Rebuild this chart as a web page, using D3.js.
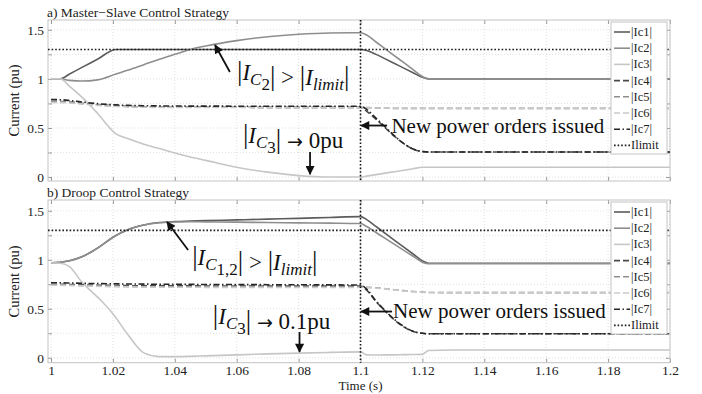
<!DOCTYPE html>
<html>
<head>
<meta charset="utf-8">
<script src="https://cdn.jsdelivr.net/npm/d3@7/dist/d3.min.js"></script>
<style>
    body { margin: 0; background: #fff; }
    svg { display: block; font-family: "Liberation Serif", "Times New Roman", serif; }
</style>
</head>
<body>
<svg id="Target" width="702" height="394"></svg>
<script>
// a) master-slave
const timeA = [1.000, 1.003, 1.006, 1.010, 1.015, 1.021, 1.025, 1.030, 1.035, 1.040, 1.045, 1.050, 1.060, 1.070, 1.080, 1.090, 1.100,
    1.102, 1.105, 1.108, 1.111, 1.114, 1.117, 1.120, 1.122, 1.130, 1.150, 1.170, 1.200];
const ic1A = [1.00, 1.00, 1.05, 1.117, 1.20, 1.30, 1.30, 1.30, 1.30, 1.30, 1.30, 1.30, 1.30, 1.30, 1.30, 1.30, 1.30,
    1.29, 1.25, 1.204, 1.157, 1.110, 1.063, 1.016, 1.00, 1.00, 1.00, 1.00, 1.00];
const ic2A = [1.00, 1.00, 0.985, 0.978, 0.99, 1.05, 1.09, 1.145, 1.20, 1.25, 1.30, 1.335, 1.39, 1.43, 1.455, 1.468, 1.47,
    1.447, 1.376, 1.306, 1.235, 1.165, 1.094, 1.024, 1.00, 1.00, 1.00, 1.00, 1.00];
const ic3A = [1.00, 1.00, 0.925, 0.815, 0.65, 0.44, 0.39, 0.335, 0.29, 0.245, 0.205, 0.17, 0.10, 0.05, 0.015, 0.0, 0.0,
    0.01, 0.025, 0.04, 0.055, 0.07, 0.085, 0.10, 0.10, 0.10, 0.10, 0.10, 0.10];
const ic4A = [0.77, 0.77, 0.765, 0.75, 0.735, 0.725, 0.72, 0.715, 0.715, 0.713, 0.712, 0.712, 0.711, 0.71, 0.71, 0.71, 0.71,
    0.67, 0.59, 0.50, 0.415, 0.34, 0.285, 0.26, 0.255, 0.255, 0.255, 0.255, 0.255];
const ic5A = [0.77, 0.77, 0.765, 0.75, 0.735, 0.725, 0.72, 0.715, 0.715, 0.713, 0.712, 0.712, 0.711, 0.71, 0.71, 0.71, 0.71,
    0.708, 0.705, 0.703, 0.70, 0.70, 0.70, 0.70, 0.70, 0.70, 0.70, 0.70, 0.70];
const ic6A = [0.76, 0.76, 0.755, 0.743, 0.73, 0.72, 0.715, 0.712, 0.71, 0.71, 0.709, 0.709, 0.708, 0.708, 0.708, 0.708, 0.708,
    0.706, 0.704, 0.702, 0.70, 0.70, 0.70, 0.70, 0.70, 0.70, 0.70, 0.70, 0.70];
const ic7A = [0.79, 0.788, 0.78, 0.765, 0.748, 0.735, 0.73, 0.727, 0.725, 0.724, 0.723, 0.723, 0.722, 0.722, 0.722, 0.722, 0.722,
    0.69, 0.60, 0.51, 0.42, 0.34, 0.285, 0.26, 0.255, 0.255, 0.255, 0.255, 0.255];

// b) droop
const timeB = [1.000, 1.003, 1.006, 1.010, 1.013, 1.016, 1.020, 1.025, 1.030, 1.035, 1.040, 1.045, 1.050, 1.060, 1.070, 1.080, 1.090, 1.100,
    1.102, 1.105, 1.108, 1.111, 1.114, 1.117, 1.120, 1.122, 1.130, 1.150, 1.170, 1.200];
const ic1B = [0.97, 0.975, 0.99, 1.03, 1.08, 1.14, 1.23, 1.31, 1.355, 1.38, 1.39, 1.395, 1.40, 1.407, 1.415, 1.423, 1.432, 1.44,
    1.41, 1.34, 1.27, 1.199, 1.129, 1.059, 0.989, 0.965, 0.965, 0.965, 0.965, 0.965];
const ic2B = [0.97, 0.975, 0.99, 1.03, 1.08, 1.14, 1.23, 1.31, 1.355, 1.378, 1.386, 1.388, 1.387, 1.384, 1.38, 1.377, 1.374, 1.37,
    1.339, 1.278, 1.218, 1.157, 1.096, 1.036, 0.975, 0.96, 0.96, 0.96, 0.96, 0.96];
const ic3B = [0.97, 0.965, 0.93, 0.77, 0.68, 0.59, 0.45, 0.23, 0.05, 0.012, 0.012, 0.015, 0.02, 0.03, 0.04, 0.048, 0.055, 0.06,
    0.03, 0.028, 0.03, 0.03, 0.032, 0.033, 0.035, 0.075, 0.08, 0.08, 0.08, 0.08];
const ic4B = [0.75, 0.75, 0.748, 0.745, 0.742, 0.74, 0.738, 0.736, 0.735, 0.735, 0.734, 0.734, 0.733, 0.733, 0.733, 0.733, 0.733, 0.733,
    0.69, 0.575, 0.475, 0.385, 0.315, 0.268, 0.25, 0.245, 0.245, 0.245, 0.245, 0.245];
const ic5B = [0.745, 0.745, 0.742, 0.738, 0.735, 0.732, 0.73, 0.727, 0.725, 0.724, 0.723, 0.722, 0.722, 0.721, 0.72, 0.72, 0.72, 0.72,
    0.719, 0.714, 0.705, 0.695, 0.685, 0.676, 0.67, 0.667, 0.665, 0.665, 0.665, 0.665];
const ic6B = [0.74, 0.74, 0.738, 0.734, 0.731, 0.728, 0.726, 0.724, 0.722, 0.721, 0.72, 0.72, 0.719, 0.719, 0.718, 0.718, 0.718, 0.718,
    0.717, 0.712, 0.703, 0.693, 0.684, 0.675, 0.669, 0.666, 0.665, 0.665, 0.665, 0.665];
const ic7B = [0.765, 0.765, 0.763, 0.76, 0.758, 0.757, 0.755, 0.753, 0.752, 0.75, 0.75, 0.749, 0.748, 0.747, 0.746, 0.745, 0.744, 0.742,
    0.70, 0.58, 0.48, 0.39, 0.32, 0.27, 0.25, 0.245, 0.245, 0.245, 0.245, 0.245];

const iLimit = 1.3;
const ordersTime = 1.1;
const seriesNames = ["|Ic1|", "|Ic2|", "|Ic3|", "|Ic4|", "|Ic5|", "|Ic6|", "|Ic7|", "Ilimit"];
const xTicks = [1, 1.02, 1.04, 1.06, 1.08, 1.1, 1.12, 1.14, 1.16, 1.18, 1.2];
const yTicks = [0, 0.5, 1, 1.5];
const yGrid = [0, 0.25, 0.5, 0.75, 1, 1.25, 1.5];

const styles = [
    { color: "#5c5c5c", dash: null },
    { color: "#8e8e8e", dash: null },
    { color: "#c6c6c6", dash: null },
    { color: "#4a4a4a", dash: "6,3" },
    { color: "#8e8e8e", dash: "6,3" },
    { color: "#cacaca", dash: "6,3" },
    { color: "#262626", dash: "6,2.5,1.5,2.5" },
    { color: "#1a1a1a", dash: "1.6,2" }
];

const serif = "'Liberation Serif', 'Times New Roman', serif";

const svg = d3.select("#Target");
svg.append("rect").attr("width", 702).attr("height", 394).attr("fill", "#fff");

svg.append("defs").append("marker")
    .attr("id", "head")
    .attr("viewBox", "0 0 10 10")
    .attr("refX", 9).attr("refY", 5)
    .attr("markerWidth", 11).attr("markerHeight", 9)
    .attr("markerUnits", "userSpaceOnUse")
    .attr("orient", "auto")
    .append("path")
    .attr("d", "M0,0 L10,5 L0,10 Z")
    .attr("fill", "#111");

const x = d3.scaleLinear().domain([1, 1.2]).range([51, 670]);
const plotLeft = 48, plotRight = 670;

function mathText(g, px, py, parts) {
    const t = g.append("text")
        .attr("x", px).attr("y", py)
        .style("font-family", serif)
        .style("font-size", "23px")
        .attr("fill", "#111");
    parts.forEach(p => {
        const s = t.append("tspan").text(p.t);
        if (p.i) s.style("font-style", "italic");
        if (p.bar) s.style("font-size", "27px");
        if (p.sub) s.style("font-size", "17px").attr("dy", 5);
        if (p.up) s.attr("dy", -5);
        if (p.sym) s.style("font-family", "'DejaVu Sans', sans-serif").style("font-size", "19px");
    });
}

function arrow(g, x1, y1, x2, y2) {
    g.append("line")
        .attr("x1", x1).attr("y1", y1).attr("x2", x2).attr("y2", y2)
        .attr("stroke", "#111").attr("stroke-width", 1.8)
        .attr("marker-end", "url(#head)");
}

function drawPanel(cfg) {
    const y = d3.scaleLinear().domain(cfg.yDomain).range([cfg.bottom, cfg.top]);
    const g = svg.append("g");

    // grid
    g.selectAll("line.vg").data(xTicks).enter().append("line")
        .attr("x1", d => x(d)).attr("x2", d => x(d))
        .attr("y1", cfg.top).attr("y2", cfg.bottom)
        .attr("stroke", "#d8d8d8").attr("stroke-width", 0.8).attr("stroke-dasharray", "1,2");
    g.selectAll("line.hg").data(yGrid).enter().append("line")
        .attr("x1", plotLeft).attr("x2", plotRight)
        .attr("y1", d => y(d)).attr("y2", d => y(d))
        .attr("stroke", "#d8d8d8").attr("stroke-width", 0.8).attr("stroke-dasharray", "1,2");

    // axes with inward ticks
    g.append("g").attr("transform", `translate(${plotLeft},0)`)
        .call(d3.axisLeft(y).tickValues(yGrid).tickSizeInner(-4).tickSizeOuter(0).tickPadding(4)
            .tickFormat(d => yTicks.includes(d) ? d3.format("")(d) : ""));
    g.append("g").attr("transform", `translate(${plotRight},0)`)
        .call(d3.axisRight(y).tickValues(yGrid).tickSizeInner(-4).tickSizeOuter(0).tickFormat(""));
    g.append("g").attr("transform", `translate(0,${cfg.bottom})`)
        .call(d3.axisBottom(x).tickValues(xTicks).tickSizeInner(-4).tickSizeOuter(0).tickPadding(3)
            .tickFormat(d => cfg.xLabels ? String(+d.toFixed(2)) : ""));
    g.append("g").attr("transform", `translate(0,${cfg.top})`)
        .call(d3.axisTop(x).tickValues(xTicks).tickSizeInner(-4).tickSizeOuter(0).tickFormat(""));
    g.selectAll(".domain").remove();
    g.selectAll(".tick line").attr("stroke", "#9a9a9a");
    g.selectAll(".tick text")
        .style("font-family", serif).style("font-size", "13.5px").attr("fill", "#222");

    g.append("rect")
        .attr("x", plotLeft).attr("y", cfg.top)
        .attr("width", plotRight - plotLeft).attr("height", cfg.bottom - cfg.top)
        .attr("fill", "none").attr("stroke", "#c4c4c4").attr("stroke-width", 1);

    // curves
    const line = d3.line()
        .x(d => x(d[0]))
        .y(d => y(d[1]))
        .curve(d3.curveMonotoneX);

    cfg.series.forEach((vals, i) => {
        g.append("path")
            .attr("d", line(cfg.time.map((t, k) => [t, vals[k]])))
            .attr("fill", "none")
            .attr("stroke", styles[i].color)
            .attr("stroke-width", 1.6)
            .attr("stroke-dasharray", styles[i].dash);
    });

    g.append("line")
        .attr("x1", plotLeft).attr("x2", plotRight)
        .attr("y1", y(iLimit)).attr("y2", y(iLimit))
        .attr("stroke", styles[7].color).attr("stroke-width", 1.6)
        .attr("stroke-dasharray", styles[7].dash);

    g.append("line")
        .attr("x1", x(ordersTime)).attr("x2", x(ordersTime))
        .attr("y1", cfg.top).attr("y2", cfg.bottom)
        .attr("stroke", "#111").attr("stroke-width", 1.6)
        .attr("stroke-dasharray", "1.6,2");

    // title and y label
    svg.append("text")
        .attr("x", plotLeft - 1).attr("y", cfg.top - 3)
        .style("font-size", "13.5px").attr("fill", "#222")
        .text(cfg.title);
    svg.append("text")
        .attr("transform", `translate(19,${(cfg.top + cfg.bottom) / 2}) rotate(-90)`)
        .attr("text-anchor", "middle")
        .style("font-size", "14.5px").attr("fill", "#222")
        .text("Current (pu)");

    // legend
    const leg = svg.append("g").attr("transform", `translate(611,${cfg.top + 2})`);
    leg.append("rect")
        .attr("width", 56).attr("height", 132)
        .attr("fill", "#fff").attr("stroke", "#c4c4c4");
    seriesNames.forEach((name, i) => {
        const ly = 10 + i * 16.2;
        leg.append("line")
            .attr("x1", 3).attr("x2", 19).attr("y1", ly).attr("y2", ly)
            .attr("stroke", styles[i].color).attr("stroke-width", 1.6)
            .attr("stroke-dasharray", styles[i].dash);
        leg.append("text")
            .attr("x", 20).attr("y", ly + 4)
            .style("font-size", "12.5px").attr("fill", "#222")
            .text(name);
    });

    // annotations
    const a = cfg.notes;
    mathText(svg, x(a.limit[0]), y(a.limit[1]), a.limitParts);
    arrow(svg, x(a.limitArrow[0]), y(a.limitArrow[1]), x(a.limitArrow[2]), y(a.limitArrow[3]));
    mathText(svg, x(a.ic3[0]), y(a.ic3[1]), a.ic3Parts);
    arrow(svg, x(a.ic3Arrow[0]), y(a.ic3Arrow[1]), x(a.ic3Arrow[0]), y(a.ic3Arrow[2]));
    svg.append("text")
        .attr("x", x(a.orders[0])).attr("y", y(a.orders[1]))
        .style("font-size", "21px").attr("fill", "#111")
        .text("New power orders issued");
    arrow(svg, x(a.ordersArrow[0]), y(a.ordersArrow[2]), x(a.ordersArrow[1]), y(a.ordersArrow[2]));
}

drawPanel({
    title: "a) Master\u2212Slave Control Strategy",
    top: 20, bottom: 181, yDomain: [-0.04, 1.6], xLabels: false,
    time: timeA,
    series: [ic1A, ic2A, ic3A, ic4A, ic5A, ic6A, ic7A],
    notes: {
        limit: [1.0601, 0.99],
        limitParts: [{ t: "|", bar: true }, { t: "I", i: true }, { t: "C", i: true, sub: true }, { t: "2", sub: true },
            { t: "|", bar: true, up: true }, { t: " > " }, { t: "|", bar: true }, { t: "I", i: true },
            { t: "limit", i: true, sub: true }, { t: "|", bar: true, up: true }],
        limitArrow: [1.0578, 1.07, 1.053, 1.345],
        ic3: [1.062, 0.35],
        ic3Parts: [{ t: "|", bar: true }, { t: "I", i: true }, { t: "C", i: true, sub: true }, { t: "3", sub: true },
            { t: "|", bar: true, up: true }, { t: " " }, { t: "\u2192", sym: true }, { t: " 0pu" }],
        ic3Arrow: [1.0837, 0.256, 0.03],
        orders: [1.110, 0.45],
        ordersArrow: [1.1086, 1.1002, 0.525]
    }
});

drawPanel({
    title: "b) Droop Control Strategy",
    top: 200, bottom: 362.7, yDomain: [-0.05, 1.61], xLabels: true,
    time: timeB,
    series: [ic1B, ic2B, ic3B, ic4B, ic5B, ic6B, ic7B],
    notes: {
        limit: [1.0456, 0.95],
        limitParts: [{ t: "|", bar: true }, { t: "I", i: true }, { t: "C", i: true, sub: true }, { t: "1,2", sub: true },
            { t: "|", bar: true, up: true }, { t: " > " }, { t: "|", bar: true }, { t: "I", i: true },
            { t: "limit", i: true, sub: true }, { t: "|", bar: true, up: true }],
        limitArrow: [1.0443, 1.10, 1.0375, 1.386],
        ic3: [1.0523, 0.34],
        ic3Parts: [{ t: "|", bar: true }, { t: "I", i: true }, { t: "C", i: true, sub: true }, { t: "3", sub: true },
            { t: "|", bar: true, up: true }, { t: " " }, { t: "\u2192", sym: true }, { t: " 0.1pu" }],
        ic3Arrow: [1.0803, 0.263, 0.06],
        orders: [1.1105, 0.405],
        ordersArrow: [1.1102, 1.1002, 0.472]
    }
});

svg.append("text")
    .attr("x", x(1.1)).attr("y", 390)
    .attr("text-anchor", "middle")
    .style("font-size", "13px").attr("fill", "#222")
    .text("Time (s)");
</script>
</body>
</html>
